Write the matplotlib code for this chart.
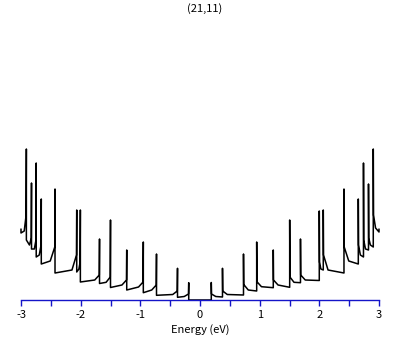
import matplotlib
matplotlib.use('Agg')
import matplotlib.pyplot as plt
import numpy as np

plt.rcParams['font.family'] = ['Noto Sans CJK JP', 'DejaVu Sans']
plt.rcParams['axes.unicode_minus'] = False

title = "(21,11)"

# conduction side van Hove singularities (eV) and DOS levels (arb. units)
cond_E = [0.189, 0.377, 0.729, 0.950, 1.228, 1.503, 1.684, 1.999, 2.066,
          2.413, 2.653, 2.740, 2.824, 2.904]
cond_peak = [17.5, 31.7, 46, 58, 50, 80, 61, 89, 90, 111, 101, 137, 116, 151]
cond_drop = [6, 9, 15.5, 18.3, 20, 23, 25, 38, 45, 53, 55, 60, 62, 85]
cond_knee = [3.5, 5.5, 10, 13.3, 15, 17.7, 20, 31, 30, 39, 45, 51, 55, 72]
cond_floor = [3, 5, 9, 12.3, 12.7, 17.3, 19.5, 30, 27, 36, 43, 50, 53, 68]
cond_end = 70.7

# valence side (read separately, nearly mirror of the conduction side)
val_E = [-0.189, -0.377, -0.729, -0.950, -1.228, -1.500, -1.684, -2.005, -2.066,
         -2.430, -2.660, -2.745, -2.824, -2.910]
val_peak = [17.3, 31.7, 46, 58, 50, 80, 61, 90, 90, 111, 101, 137, 117, 151]
val_drop = [6, 9, 15, 18, 20, 23, 25, 38, 45, 53, 55, 60, 62, 85]
val_knee = [3.5, 5.5, 10, 13, 15, 17.7, 20, 31, 30, 39, 45, 51, 55, 69]
val_floor = [2.7, 4.7, 7.3, 10, 12.5, 16.5, 18, 28, 27, 36, 43, 51, 60, 67]
val_end = 70.7

x_min, x_max = -3, 3


def build_side(E, peak, drop, knee, floor, end, x_edge):
    # polyline going outward from the gap edge
    xs = [0.0, E[0]]
    ys = [0.0, 0.0]
    sign = 1 if x_edge > 0 else -1
    for i in range(len(E)):
        nxt = E[i + 1] if i + 1 < len(E) else x_edge
        gap = abs(nxt - E[i])
        dk = min(0.08, 0.4 * gap)
        xs += [E[i], E[i], E[i] + sign * 0.004, E[i] + sign * dk, nxt]
        ys += [ys[-1], peak[i], drop[i], knee[i], floor[i]]
    xs.append(x_edge)
    ys.append(end)
    return xs, ys


cx, cy = build_side(cond_E, cond_peak, cond_drop, cond_knee, cond_floor, cond_end, x_max)
vx, vy = build_side(val_E, val_peak, val_drop, val_knee, val_floor, val_end, x_min)

fig = plt.figure(figsize=(4.09, 3.45), dpi=100)
ax = fig.add_axes([21 / 409, 45 / 345, 358 / 409, 280 / 345])

ax.plot(vx[::-1] + cx, vy[::-1] + cy, color='black', lw=1.1, clip_on=False)

ax.set_xlim(x_min, x_max)
ax.set_ylim(0, 280)

for s in ['top', 'left', 'right']:
    ax.spines[s].set_visible(False)
axis_blue = '#1414C8'
ax.spines['bottom'].set_color(axis_blue)
ax.spines['bottom'].set_linewidth(1.0)
ax.set_yticks([])
ax.xaxis.set_ticks(np.arange(-3, 3.1, 1))
ax.xaxis.set_ticks(np.arange(-3, 3.1, 0.5), minor=True)
ax.tick_params(axis='x', which='both', direction='out', length=4.5, width=1.0,
               color=axis_blue, labelsize=8, labelcolor='black', pad=2.5)
ax.set_xticklabels([str(v) for v in range(-3, 4)])
ax.set_xlabel('Energy (eV)', fontsize=8, labelpad=3)

fig.text(0.5, 1 - 9 / 345, title, ha='center', va='center', fontsize=8)

plt.savefig('out.png', dpi=100)
